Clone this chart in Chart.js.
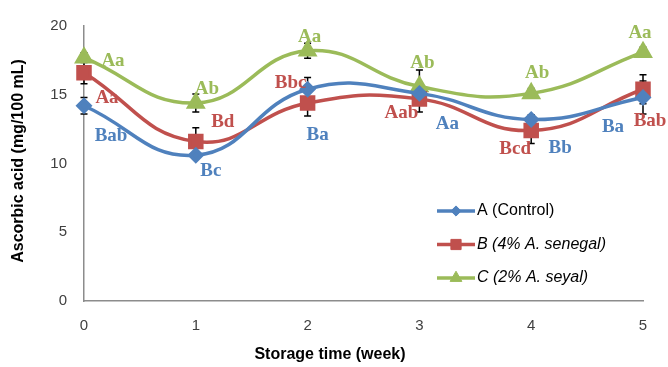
<!DOCTYPE html>
<html>
<head>
<meta charset="utf-8">
<script src="https://cdn.jsdelivr.net/npm/chart.js@4/dist/chart.umd.min.js"></script>
<style>
  html, body { margin: 0; padding: 0; background: #fff; }
  #wrap { width: 668px; height: 367px; position: relative; }
</style>
</head>
<body>
<div id="wrap"><canvas id="chart"></canvas></div>
<script>
// storage weeks
let weeks = ["0", "1", "2", "3", "4", "5"];
let yTicks = [0, 5, 10, 15, 20];

// ascorbic acid (mg/100 mL)
let controlA = [14.2, 10.6, 15.4, 15.1, 13.2, 14.8];
let senegalB = [16.6, 11.6, 14.4, 14.7, 12.4, 15.4];
let seyalC = [17.7, 14.4, 18.2, 15.6, 15.1, 18.1];

// error bar half widths
let errA = [0.6, 0.2, 0.85, 0.3, 0.35, 1.2];
let errB = [0.8, 1.0, 0.95, 0.95, 0.95, 1.05];
let errC = [0.35, 0.65, 0.55, 1.2, 0.35, 0.35];

// significance letters
let lettersA = ["Bab", "Bc", "Ba", "Aa", "Bb", "Ba"];
let lettersB = ["Aa", "Bd", "Bbc", "Aab", "Bcd", "Bab"];
let lettersC = ["Aa", "Ab", "Aa", "Ab", "Ab", "Aa"];

let legendNames = ["A (Control)", "B (4% A. senegal)", "C (2% A. seyal)"];
let xTitle = "Storage time (week)";
let yTitle = "Ascorbic acid (mg/100 mL)";

const BLUE = "#4F81BD";
const RED = "#C0504D";
const GREEN = "#9BBB59";

// where each letter sits relative to its point (px)
let letterOffsets = [
  [[27, 30], [15, 16], [10, 46], [28, 31], [29, 29], [-30, 30]],
  [[23, 25], [27, -19], [-17, -20], [-18, 14], [-16, 19], [7, 32]],
  [[29, 3], [11, -14], [2, -14], [3, -23], [6, -20], [-3, -19]]
];

let errors = [errA, errB, errC];
let letters = [lettersA, lettersB, lettersC];

//-----------------------------------------------
const errorBars = {
  id: "errorBars",
  beforeDatasetsDraw(chart) {
    let ctx = chart.ctx;
    let yScale = chart.scales.y;
    ctx.save();
    ctx.strokeStyle = "#000";
    ctx.lineWidth = 1.5;
    chart.data.datasets.forEach((ds, i) => {
      let meta = chart.getDatasetMeta(i);
      meta.data.forEach((pt, j) => {
        let v = ds.data[j];
        let top = yScale.getPixelForValue(v + errors[i][j]);
        let bot = yScale.getPixelForValue(v - errors[i][j]);
        ctx.beginPath();
        ctx.moveTo(pt.x, top); ctx.lineTo(pt.x, bot);
        ctx.moveTo(pt.x - 3.5, top); ctx.lineTo(pt.x + 3.5, top);
        ctx.moveTo(pt.x - 3.5, bot); ctx.lineTo(pt.x + 3.5, bot);
        ctx.stroke();
      });
    });
    ctx.restore();
  }
};

const letterLabels = {
  id: "letterLabels",
  afterDatasetsDraw(chart) {
    let ctx = chart.ctx;
    ctx.save();
    ctx.font = "bold 19px 'Liberation Serif', 'Times New Roman', serif";
    ctx.textAlign = "center";
    ctx.textBaseline = "middle";
    chart.data.datasets.forEach((ds, i) => {
      let meta = chart.getDatasetMeta(i);
      ctx.fillStyle = ds.borderColor;
      meta.data.forEach((pt, j) => {
        let off = letterOffsets[i][j];
        ctx.fillText(letters[i][j], pt.x + off[0], pt.y + off[1]);
      });
    });
    ctx.restore();
  }
};

// axis titles (Excel centres the x title on the whole chart, not the plot)
const axisTitles = {
  id: "axisTitles",
  afterDraw(chart) {
    let ctx = chart.ctx;
    ctx.save();
    ctx.fillStyle = "#000";
    ctx.font = "bold 16px 'Liberation Sans', Arial, sans-serif";
    ctx.textAlign = "center";
    ctx.textBaseline = "middle";
    ctx.fillText(xTitle, 330, 355);
    ctx.translate(19, 161);
    ctx.rotate(-Math.PI / 2);
    ctx.fillText(yTitle, 0, 0);
    ctx.restore();
  }
};

const boxLegend = {
  id: "boxLegend",
  afterDraw(chart) {
    let ctx = chart.ctx;
    let x0 = 437, x1 = 475, y0 = 211, gap = 33.5;
    ctx.save();
    chart.data.datasets.forEach((ds, i) => {
      let y = y0 + i * gap;
      ctx.strokeStyle = ds.borderColor;
      ctx.lineWidth = 3.5;
      ctx.beginPath();
      ctx.moveTo(x0, y); ctx.lineTo(x1, y);
      ctx.stroke();
      ctx.fillStyle = ds.pointBackgroundColor;
      ctx.strokeStyle = ds.pointBorderColor;
      ctx.lineWidth = 1;
      Chart.helpers.drawPoint(ctx, {
        pointStyle: ds.pointStyle,
        radius: ds.pointRadius * 0.85,
        borderWidth: 1,
        rotation: 0
      }, (x0 + x1) / 2, y);
      ctx.fillStyle = "#000";
      ctx.font = (i === 0 ? "" : "italic ") + "16px 'Liberation Sans', Arial, sans-serif";
      ctx.textBaseline = "middle";
      ctx.fillText(legendNames[i], x1 + 2, y);
    });
    ctx.restore();
  }
};

function makeSet(label, data, color, style, radius) {
  return {
    label: label,
    data: data,
    borderColor: color,
    backgroundColor: color,
    pointBackgroundColor: color,
    pointBorderColor: color,
    pointStyle: style,
    pointRadius: radius,
    pointHoverRadius: radius,
    borderWidth: 3.5,
    tension: 0.45,
    fill: false,
    clip: false
  };
}

let tickFont = { family: "'Liberation Sans', Arial, sans-serif", size: 15 };

new Chart(document.getElementById("chart"), {
  type: "line",
  data: {
    labels: weeks,
    datasets: [
      makeSet(legendNames[0], controlA, BLUE, "rectRot", 6),
      makeSet(legendNames[1], senegalB, RED, "rect", 8.5),
      makeSet(legendNames[2], seyalC, GREEN, "triangle", 8)
    ]
  },
  options: {
    responsive: true,
    maintainAspectRatio: false,
    animation: false,
    layout: { padding: { top: 21, right: 25, left: 0, bottom: 0 } },
    plugins: {
      legend: { display: false },
      tooltip: { enabled: false }
    },
    scales: {
      x: {
        offset: false,
        grid: { display: false, drawTicks: false },
        border: { display: true, color: "#8c8c8c", width: 1.5 },
        ticks: { font: tickFont, color: "#404040", padding: 16, maxRotation: 0 },
        afterFit(scale) { scale.height = 66; }
      },
      y: {
        min: yTicks[0],
        max: yTicks[yTicks.length - 1],
        grid: { display: false, drawTicks: false },
        border: { display: true, color: "#8c8c8c", width: 1.5 },
        ticks: { stepSize: yTicks[1] - yTicks[0], font: tickFont, color: "#404040", padding: 17 },
        afterFit(scale) { scale.width = 84; }
      }
    }
  },
  plugins: [errorBars, letterLabels, axisTitles, boxLegend]
});
</script>
</body>
</html>
